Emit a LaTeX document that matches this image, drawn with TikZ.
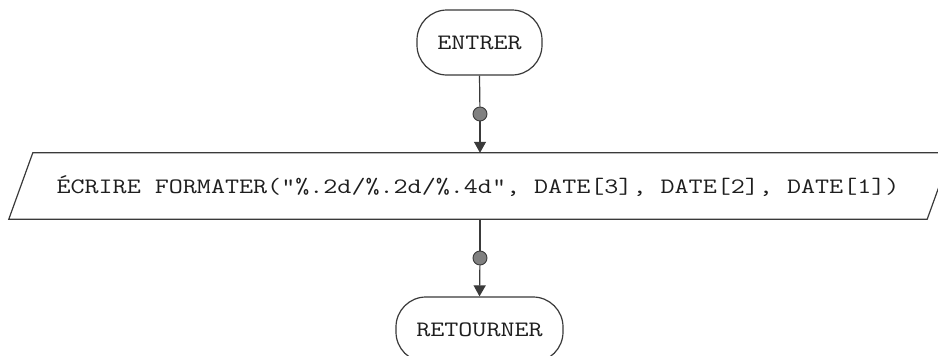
\documentclass[tikz,border=0pt]{standalone}
\usepackage{fontspec}
\newfontfamily\courfont{Latin Modern Mono}[FakeStretch=1.24]
\usetikzlibrary{arrows.meta}
\definecolor{linec}{HTML}{3A3A3A}
\definecolor{dotc}{HTML}{808080}
\definecolor{txtc}{HTML}{1E1E1E}
\begin{document}
\begin{tikzpicture}[x=1pt,y=-1pt,
  lbl/.style={font=\courfont\fontsize{22}{26}\selectfont, text=txtc},
  term/.style={lbl, draw=linec, line width=1.2pt, rounded corners=30pt,
    minimum width=#1, minimum height=65pt, inner sep=0pt},
  io/.style={lbl, minimum width=918pt, minimum height=66pt, inner sep=0pt},
  joint/.style={circle, draw=linec, line width=0.9pt, fill=dotc, minimum size=14pt, inner sep=0pt},
  conn/.style={draw=linec, line width=1.2pt},
  arr/.style={conn, -{Triangle[length=11pt,width=12pt]}}
]
\clip (0,0) rectangle (938,356);
\fill[white] (0,0) rectangle (938,356);
\node[term=125pt] (entrer) at (479.5,42.5) {ENTRER};
\node[io] (ecrire) at (480,186) {};
\draw[conn] ([xshift=-12pt]ecrire.south west) -- ([xshift=12pt]ecrire.north west)
  -- ([xshift=12pt]ecrire.north east) -- ([xshift=-12pt]ecrire.south east) -- cycle;
\node[lbl] (ecrtxt) at (478,186) {ÉCRIRE FORMATER("\%.2d/\%.2d/\%.4d", DATE[3], DATE[2], DATE[1])};
\node[term=167pt] (retour) at (479.5,329.5) {RETOURNER};
\node[joint] (d1) at (480,114) {};
\node[joint] (d2) at (480,258) {};
\draw[conn] (entrer.south) -- (d1);
\draw[arr] (d1) -- (ecrire.north);
\draw[conn] (ecrire.south) -- (d2);
\draw[arr] (d2) -- (retour.north);
\end{tikzpicture}
\end{document}
